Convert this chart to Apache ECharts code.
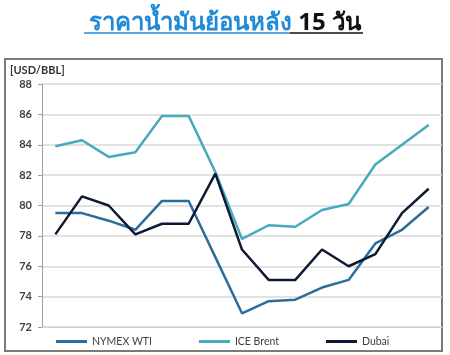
<!DOCTYPE html>
<html>
<head>
<meta charset="utf-8">
<script src="https://cdn.jsdelivr.net/npm/echarts@6/dist/echarts.min.js"></script>
<style>
  html, body { margin: 0; padding: 0; background: #fff; }
  #chart { width: 450px; height: 355px; }
</style>
</head>
<body>
<div id="chart"></div>
<script>
// 15 วัน
const days = ['1', '2', '3', '4', '5', '6', '7', '8', '9', '10', '11', '12', '13', '14', '15']
const wti = [79.5, 79.5, 79.0, 78.4, 80.3, 80.3, 76.6, 72.9, 73.7, 73.8, 74.6, 75.1, 77.5, 78.4, 79.9]
const brent = [83.9, 84.3, 83.2, 83.5, 85.9, 85.9, 82.2, 77.8, 78.7, 78.6, 79.7, 80.1, 82.7, 84.0, 85.3]
const dubai = [78.1, 80.6, 80.0, 78.1, 78.8, 78.8, 82.1, 77.1, 75.1, 75.1, 77.1, 76.0, 76.8, 79.5, 81.1]
const yTicks = { min: 72, max: 88, step: 2 }

const chart = echarts.init(document.getElementById('chart'))

const option = {
  animation: false,
  title: {
    text: '{a|ราคาน้ำมันย้อนหลัง}{b| 15 วัน}',
    left: 'center',
    top: 6,
    textStyle: {
      rich: {
        a: { fontSize: 24, fontWeight: 'bold', color: '#1f8ad8', fontFamily: 'Noto Sans, sans-serif' },
        b: { fontSize: 24, fontWeight: 'bold', color: '#111', fontFamily: 'Noto Sans, sans-serif' }
      }
    }
  },
  graphic: [
    // title underline
    { type: 'line', shape: { x1: 84, y1: 33, x2: 290, y2: 33 }, style: { stroke: '#1f8ad8', lineWidth: 1.5 } },
    { type: 'line', shape: { x1: 290, y1: 33, x2: 363, y2: 33 }, style: { stroke: '#111', lineWidth: 1.5 } },
    // frame
    { type: 'rect', shape: { x: 5, y: 59, width: 437, height: 292 }, style: { fill: 'none', stroke: '#7a7a7a', lineWidth: 2 }, z: 0 },
    { type: 'text', left: 10, top: 65, style: { text: '[USD/BBL]', font: 'bold 11px Lato, sans-serif', fill: '#333' } }
  ],
  grid: { left: 42, right: 8, top: 84, bottom: 28 },
  legend: {
    left: 56,
    top: 336,
    padding: 0,
    icon: 'rect',
    itemWidth: 31,
    itemHeight: 3,
    itemGap: 47,
    textStyle: { fontSize: 10.5, color: '#404040', fontFamily: 'Lato, sans-serif' },
    data: ['NYMEX WTI', 'ICE Brent', 'Dubai']
  },
  xAxis: {
    type: 'category',
    data: days,
    boundaryGap: true,
    axisLine: { show: true, lineStyle: { color: '#d0d0d0' } },
    axisTick: { show: false },
    axisLabel: { show: false }
  },
  yAxis: {
    type: 'value',
    min: yTicks.min,
    max: yTicks.max,
    interval: yTicks.step,
    axisLine: { show: true, lineStyle: { color: '#a0a0a0' } },
    axisTick: { show: true, length: 4, lineStyle: { color: '#a0a0a0' } },
    axisLabel: { fontSize: 11, fontWeight: 'bold', color: '#404040', fontFamily: 'Lato, sans-serif', margin: 10 },
    splitLine: { lineStyle: { color: '#d9d9d9', width: 1.5 } }
  },
  series: [
    { name: 'NYMEX WTI', type: 'line', data: wti, symbol: 'none', lineStyle: { width: 2.5, color: '#2c6d9c' }, itemStyle: { color: '#2c6d9c' } },
    { name: 'ICE Brent', type: 'line', data: brent, symbol: 'none', lineStyle: { width: 2.5, color: '#45aabb' }, itemStyle: { color: '#45aabb' } },
    { name: 'Dubai', type: 'line', data: dubai, symbol: 'none', lineStyle: { width: 2.5, color: '#0e1a33' }, itemStyle: { color: '#0e1a33' } }
  ]
}

chart.setOption(option)
</script>
</body>
</html>
